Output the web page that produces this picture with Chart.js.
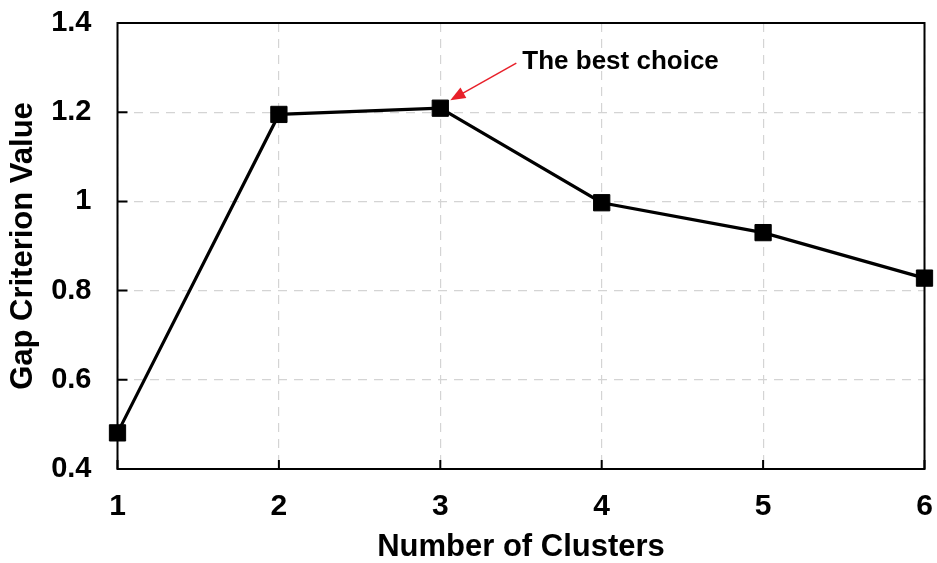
<!DOCTYPE html>
<html>
<head>
<meta charset="utf-8">
<script src="https://cdn.jsdelivr.net/npm/chart.js@4.4.1/dist/chart.umd.min.js"></script>
<style>
  html, body { margin: 0; padding: 0; background: #fff; }
  #wrap { width: 937px; height: 563px; }
</style>
</head>
<body>
<div id="wrap"><canvas id="gapChart" width="937" height="563"></canvas></div>
<script>
// data
const clusters = [1, 2, 3, 4, 5, 6];
const gapValues = [0.481, 1.195, 1.209, 0.997, 0.930, 0.828];
const yTicks = [0.4, 0.6, 0.8, 1.0, 1.2, 1.4];
const xTitle = "Number of Clusters";
const yTitle = "Gap Criterion Value";
const noteText = "The best choice";
const noteIndex = 2;

const FONT = "'Liberation Sans', Arial, sans-serif";

// frame, inward ticks and the arrow note
const framePlugin = {
  id: "frame",
  afterDraw(chart) {
    const { ctx, chartArea: a, scales } = chart;
    ctx.save();
    ctx.strokeStyle = "#000";
    ctx.lineWidth = 2;
    ctx.strokeRect(a.left, a.top, a.right - a.left, a.bottom - a.top);

    ctx.beginPath();
    clusters.forEach((c) => {
      const x = scales.x.getPixelForValue(c);
      ctx.moveTo(x, a.bottom);
      ctx.lineTo(x, a.bottom - 9);
    });
    yTicks.forEach((v) => {
      const y = scales.y.getPixelForValue(v);
      ctx.moveTo(a.left, y);
      ctx.lineTo(a.left + 10, y);
    });
    ctx.stroke();

    // arrow pointing at the chosen point
    const px = scales.x.getPixelForValue(clusters[noteIndex]);
    const py = scales.y.getPixelForValue(gapValues[noteIndex]);
    const tipX = px + 10, tipY = py - 8;
    const tailX = px + 76, tailY = py - 45;
    const ang = Math.atan2(tipY - tailY, tipX - tailX);
    const c = Math.cos(ang), s = Math.sin(ang);
    ctx.strokeStyle = "#e8202a";
    ctx.fillStyle = "#e8202a";
    ctx.lineWidth = 1.5;
    ctx.beginPath();
    ctx.moveTo(tailX, tailY);
    ctx.lineTo(tipX - 12 * c, tipY - 12 * s);
    ctx.stroke();
    ctx.beginPath();
    ctx.moveTo(tipX, tipY);
    ctx.lineTo(tipX - 15 * c + 6 * s, tipY - 15 * s - 6 * c);
    ctx.lineTo(tipX - 15 * c - 6 * s, tipY - 15 * s + 6 * c);
    ctx.closePath();
    ctx.fill();

    ctx.fillStyle = "#000";
    ctx.font = "bold 26px " + FONT;
    ctx.textBaseline = "alphabetic";
    ctx.textAlign = "left";
    ctx.fillText(noteText, px + 82, py - 39);
    ctx.restore();
  },
};

const ctx = document.getElementById("gapChart").getContext("2d");
new Chart(ctx, {
  type: "line",
  data: {
    datasets: [
      {
        data: clusters.map((c, i) => ({ x: c, y: gapValues[i] })),
        borderColor: "#000",
        borderWidth: 3.2,
        backgroundColor: "#000",
        pointStyle: "rect",
        pointRadius: 11.5,
        pointBorderWidth: 1,
        pointBorderColor: "#000",
        pointBackgroundColor: "#000",
        tension: 0,
        clip: false,
      },
    ],
  },
  options: {
    responsive: false,
    animation: false,
    events: [],
    layout: { padding: { left: 0, right: 11.5, top: 23, bottom: 0 } },
    plugins: {
      legend: { display: false },
      tooltip: { enabled: false },
    },
    scales: {
      x: {
        type: "linear",
        min: 1,
        max: 6,
        afterFit: (s) => {
          s.height = 94;
          s.paddingLeft = 0;
          s.paddingRight = 0;
        },
        ticks: {
          stepSize: 1,
          padding: 20,
          maxRotation: 0,
          autoSkip: false,
          color: "#000",
          font: { family: FONT, size: 30, weight: "bold" },
        },
        grid: { color: "#d4d4d4", lineWidth: 1.2, drawTicks: false },
        border: { display: false, dash: [9, 7] },
        title: {
          display: true,
          text: xTitle,
          color: "#000",
          padding: { top: 0, bottom: 0 },
          font: { family: FONT, size: 31, weight: "bold", lineHeight: 1 },
        },
      },
      y: {
        min: 0.4,
        max: 1.4,
        afterFit: (s) => {
          s.width = 117.5;
          s.paddingTop = 0;
          s.paddingBottom = 0;
        },
        afterBuildTicks: (s) => { s.ticks = yTicks.map((v) => ({ value: v })); },
        ticks: {
          padding: 26,
          color: "#000",
          font: { family: FONT, size: 29, weight: "bold" },
          callback: (v) => String(Math.round(v * 10) / 10),
        },
        grid: { color: "#d4d4d4", lineWidth: 1.2, drawTicks: false },
        border: { display: false, dash: [9, 7] },
        title: {
          display: true,
          text: yTitle,
          color: "#000",
          padding: { top: 8, bottom: 0 },
          font: { family: FONT, size: 31, weight: "bold", lineHeight: 1 },
        },
      },
    },
  },
  plugins: [framePlugin],
});
</script>
</body>
</html>
